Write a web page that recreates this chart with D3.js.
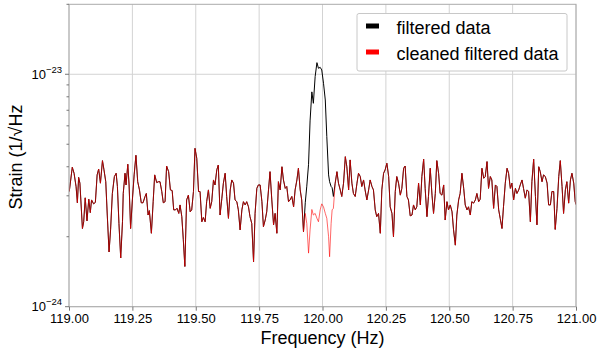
<!DOCTYPE html>
<html>
<head>
<meta charset="utf-8">
<script src="https://cdn.jsdelivr.net/npm/d3@7"></script>
<style>
  body { margin: 0; background: #fff; }
  svg { display: block; }
  text { font-family: "Liberation Sans", Arial, Helvetica, sans-serif; fill: #000; }
</style>
</head>
<body>
<svg id="chart" width="597" height="350"></svg>
<script>
// Frequency bins (Hz)
const freq = [
  119.001,119.013,119.020,119.028,119.033,119.038,119.043,119.053,119.058,119.064,
  119.071,119.078,119.084,119.089,119.097,119.104,119.111,119.117,119.124,119.132,
  119.138,119.145,119.151,119.158,119.164,119.171,119.179,119.186,119.191,119.197,
  119.204,119.211,119.214,119.221,119.225,119.232,119.237,119.243,119.250,119.257,
  119.264,119.271,119.278,119.285,119.292,119.300,119.305,119.312,119.317,119.325,
  119.332,119.338,119.346,119.353,119.359,119.366,119.372,119.379,119.385,119.393,
  119.400,119.407,119.413,119.420,119.426,119.433,119.438,119.445,119.451,119.457,
  119.464,119.471,119.478,119.484,119.491,119.497,119.504,119.511,119.517,119.524,
  119.530,119.537,119.543,119.550,119.557,119.563,119.570,119.576,119.583,119.589,
  119.596,119.603,119.609,119.616,119.622,119.629,119.636,119.642,119.649,119.655,
  119.662,119.668,119.675,119.682,119.688,119.695,119.701,119.708,119.714,119.721,
  119.728,119.734,119.741,119.747,119.754,119.761,119.767,119.774,119.780,119.787,
  119.793,119.800,119.807,119.813,119.820,119.826,119.833,119.840,119.846,119.853,
  119.859,119.866,119.872,119.879,119.886,119.892,119.899,119.905,119.912,119.918,
  119.925,119.932,119.938,119.945,119.951,119.958,119.964,119.971,119.978,119.984,
  119.991,119.997,120.004,120.011,120.017,120.024,120.028,120.034,120.038,120.043,
  120.050,120.057,120.063,120.070,120.076,120.083,120.090,120.096,120.103,120.109,
  120.116,120.122,120.129,120.136,120.142,120.149,120.155,120.162,120.168,120.175,
  120.182,120.188,120.195,120.201,120.208,120.214,120.221,120.228,120.234,120.241,
  120.247,120.254,120.261,120.267,120.274,120.280,120.287,120.293,120.300,120.307,
  120.313,120.320,120.326,120.333,120.339,120.346,120.353,120.359,120.366,120.372,
  120.379,120.386,120.392,120.399,120.405,120.412,120.418,120.425,120.432,120.438,
  120.445,120.451,120.458,120.464,120.471,120.478,120.484,120.491,120.497,120.504,
  120.511,120.517,120.524,120.530,120.537,120.543,120.550,120.557,120.563,120.570,
  120.576,120.583,120.589,120.596,120.603,120.609,120.616,120.622,120.629,120.636,
  120.642,120.649,120.655,120.662,120.668,120.675,120.682,120.688,120.695,120.701,
  120.708,120.714,120.721,120.728,120.734,120.741,120.747,120.754,120.761,120.767,
  120.774,120.780,120.787,120.793,120.800,120.807,120.813,120.820,120.826,120.833,
  120.840,120.846,120.853,120.859,120.866,120.872,120.879,120.886,120.892,120.899,
  120.905,120.912,120.918,120.925,120.932,120.938,120.945,120.951,120.958,120.964,
  120.971,120.978,120.984,120.991,120.997,121.000
];

// Amplitude spectral density of the filtered strain, in units of 1e-24 / sqrt(Hz)
const filtered = [
  3.13,3.98,3.75,3.28,2.80,3.60,3.40,2.17,2.32,2.94,
  2.34,2.90,2.54,2.88,2.77,2.81,3.69,3.91,3.40,4.25,
  3.88,3.45,2.48,1.72,2.14,3.07,3.63,3.75,3.29,2.28,
  1.62,2.32,3.07,3.75,3.34,4.10,3.34,2.17,2.88,3.69,
  4.48,3.45,3.18,2.80,2.80,2.98,3.07,2.48,2.59,2.07,
  2.83,3.69,3.42,3.45,3.45,3.13,2.80,2.83,4.03,3.81,
  3.18,3.16,2.61,2.61,2.65,2.52,2.74,2.44,1.94,1.49,
  2.88,3.02,2.56,2.61,3.13,4.80,4.35,3.13,3.13,2.32,
  2.42,2.32,2.83,3.18,2.65,2.83,3.51,3.34,3.88,4.07,
  2.48,2.93,3.40,3.75,2.98,2.40,3.18,3.51,3.40,2.88,
  2.83,2.61,2.14,2.61,2.83,2.74,2.83,2.69,2.44,2.28,
  1.56,2.52,3.23,3.34,3.34,2.83,2.21,2.36,2.56,3.18,
  3.81,2.88,2.25,2.52,2.07,3.45,3.18,4.00,3.51,3.23,
  3.29,2.83,2.88,2.98,2.69,3.18,3.51,3.94,3.18,2.88,
  2.10,2.80,3.30,4.10,6.30,8.40,7.50,9.77,11.22,10.61,
  10.71,10.44,9.15,7.75,5.39,3.69,3.45,3.29,3.25,2.98,
  3.40,3.81,3.40,3.18,2.98,3.40,4.42,4.00,3.18,4.28,
  3.40,3.07,2.98,3.40,3.75,3.63,3.29,3.51,3.18,2.88,
  3.18,3.51,3.29,3.18,2.61,2.44,2.52,2.07,3.18,3.75,
  3.88,4.14,3.63,2.69,2.52,2.00,3.13,3.63,3.40,3.02,
  3.23,3.94,4.03,2.98,2.88,2.46,2.48,2.74,2.61,2.69,
  3.40,2.74,3.63,4.31,3.23,2.44,2.98,3.94,3.02,2.52,
  3.07,4.25,3.75,3.07,3.02,3.34,2.36,2.83,2.61,2.74,
  2.56,2.14,1.84,2.48,2.88,3.07,3.75,3.23,2.74,2.61,
  2.69,2.48,2.83,2.79,2.88,3.07,2.83,2.90,3.94,3.57,
  3.63,4.21,3.23,3.63,3.51,2.65,3.34,3.29,2.61,2.40,
  2.17,2.69,3.40,3.94,3.75,3.23,3.40,2.88,3.23,3.07,
  3.18,3.34,3.51,3.23,2.93,3.18,3.13,2.32,3.45,4.31,
  2.98,2.25,4.00,3.81,3.45,3.69,3.63,3.40,2.74,2.74,
  3.13,3.13,2.15,2.65,3.63,4.25,3.29,2.52,3.18,3.45,
  2.79,3.51,3.75,3.40,2.83,2.75
];

// Around the 120 Hz line the cleaned spectrum departs from the filtered one
const cleanedStart = 119.932;
const cleanedLine = [
  2.52,2.28,1.70,2.14,2.62,2.48,2.52,2.40,2.32,2.61,
  2.77,2.69,2.52,2.40,2.00,1.64,2.28,2.61,2.65
];

const xTicks = [119.00, 119.25, 119.50, 119.75, 120.00, 120.25, 120.50, 120.75, 121.00];
const xTickLabels = ["119.00","119.25","119.50","119.75","120.00","120.25","120.50","120.75","121.00"];
const yMajor = [1e-24, 1e-23];
const yMajorExp = ["\u221224", "\u221223"];
const yMinor = [2e-24,3e-24,4e-24,5e-24,6e-24,7e-24,8e-24,9e-24,2e-23];
const seriesNames = ["filtered data", "cleaned filtered data"];
const seriesColors = ["#000000", "#ff0000"];
const unit = 1e-24;

const i0 = freq.indexOf(cleanedStart);
const cleaned = filtered.map((v, i) =>
  (i >= i0 && i < i0 + cleanedLine.length) ? cleanedLine[i - i0] : v);

const svg = d3.select("#chart");
const plot = { left: 69, right: 576, top: 4.3, bottom: 306.7 };

const x = d3.scaleLinear().domain([119, 121]).range([plot.left, plot.right]);
const y = d3.scaleLog().domain([1e-24, 2e-23]).range([plot.bottom, plot.top]);

// grid
const grid = svg.append("g");
grid.selectAll("line.gx").data(xTicks).join("line")
  .attr("x1", d => x(d)).attr("x2", d => x(d))
  .attr("y1", plot.top).attr("y2", plot.bottom)
  .attr("stroke", "#d3d3d3").attr("stroke-width", 1);
grid.selectAll("line.gy").data(yMajor).join("line")
  .attr("x1", plot.left).attr("x2", plot.right)
  .attr("y1", d => y(d)).attr("y2", d => y(d))
  .attr("stroke", "#d3d3d3").attr("stroke-width", 1);

// data lines
svg.append("clipPath").attr("id", "clip").append("rect")
  .attr("x", plot.left).attr("y", plot.top)
  .attr("width", plot.right - plot.left).attr("height", plot.bottom - plot.top);

const line = d3.line().x((d, i) => x(freq[i])).y(d => y(d * unit));
const lines = svg.append("g").attr("clip-path", "url(#clip)");
lines.append("path").datum(filtered)
  .attr("d", line).attr("fill", "none")
  .attr("stroke", seriesColors[0]).attr("stroke-width", 1).attr("stroke-linejoin", "round");
lines.append("path").datum(cleaned)
  .attr("d", line).attr("fill", "none")
  .attr("stroke", seriesColors[1]).attr("stroke-opacity", 0.6)
  .attr("stroke-width", 1).attr("stroke-linejoin", "round");

// frame
svg.append("rect")
  .attr("x", plot.left).attr("y", plot.top)
  .attr("width", plot.right - plot.left).attr("height", plot.bottom - plot.top)
  .attr("fill", "none").attr("stroke", "#aaaaaa").attr("stroke-width", 1);

// x axis
const xAxis = d3.axisBottom(x).tickValues(xTicks)
  .tickFormat((d, i) => xTickLabels[i]).tickSize(4).tickPadding(3);
const gx = svg.append("g").attr("transform", `translate(0,${plot.bottom})`).call(xAxis);
gx.select(".domain").remove();
gx.selectAll(".tick line").attr("stroke", "#777");
gx.selectAll(".tick text").attr("font-size", 13).attr("font-family", "Liberation Sans, Arial, sans-serif")
  .attr("fill", "#000");

// y axis: major ticks with power-of-ten labels, minor ticks without labels
const gy = svg.append("g");
gy.selectAll("line.major").data(yMajor).join("line")
  .attr("x1", plot.left - 4).attr("x2", plot.left)
  .attr("y1", d => y(d)).attr("y2", d => y(d)).attr("stroke", "#777");
gy.selectAll("line.minor").data(yMinor).join("line")
  .attr("x1", plot.left - 2.5).attr("x2", plot.left)
  .attr("y1", d => y(d)).attr("y2", d => y(d)).attr("stroke", "#777");
const yl = gy.selectAll("text.ylab").data(yMajor).join("text")
  .attr("x", 62).attr("y", d => y(d) + 4.5)
  .attr("text-anchor", "end").attr("font-size", 13);
yl.append("tspan").text("10");
yl.append("tspan").attr("dy", -6).attr("font-size", 9.5).text((d, i) => yMajorExp[i]);

// axis titles
svg.append("text").attr("x", (plot.left + plot.right) / 2).attr("y", 343.5)
  .attr("text-anchor", "middle").attr("font-size", 18).text("Frequency (Hz)");
svg.append("text").attr("transform", "translate(22,157) rotate(-90)")
  .attr("text-anchor", "middle").attr("font-size", 18).text("Strain (1/\u221AHz");

// legend
const lg = svg.append("g");
lg.append("rect").attr("x", 357).attr("y", 13.5).attr("width", 210).attr("height", 57.5)
  .attr("rx", 2).attr("fill", "#fff").attr("stroke", "#c8c8c8").attr("stroke-width", 1);
seriesNames.forEach((name, i) => {
  const yy = 26 + i * 26;
  lg.append("line").attr("x1", 366).attr("x2", 379).attr("y1", yy).attr("y2", yy)
    .attr("stroke", seriesColors[i]).attr("stroke-width", 5);
  lg.append("text").attr("x", 396.5).attr("y", yy + 8.3).attr("font-size", 18).text(name);
});
</script>
</body>
</html>
